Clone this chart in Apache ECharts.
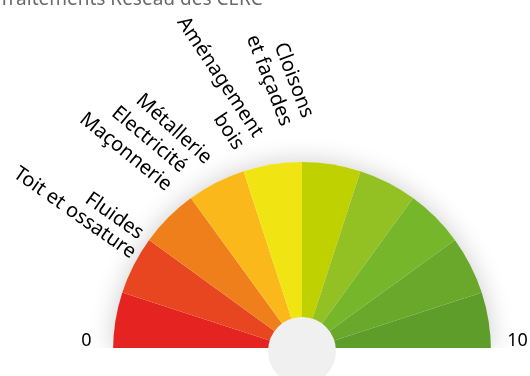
<!DOCTYPE html>
<html>
<head>
<meta charset="utf-8">
<script src="https://cdn.jsdelivr.net/npm/echarts@6/dist/echarts.min.js"></script>
<style>
html,body{margin:0;padding:0;background:#fff;}
#chart{width:530px;height:376px;}
</style>
</head>
<body>
<div id="chart"></div>
<script>
// ---- data ----
const titleText = 'Traitements Réseau des CERC';
const bandValues = [1, 1, 1, 1, 1, 1, 1, 1, 1, 1];
const categories = ['Toit et ossature', 'Fluides', 'Maçonnerie', 'Electricité', 'Métallerie', 'Aménagement\nbois', 'Cloisons\net façades'];
const scores = [1.66, 1.99, 2.83, 3.17, 3.55, 4.21, 4.93];
const tickLabels = [0, 10];

// ---- style / layout ----
const bandColors = ['#e52421', '#e84521', '#ef7f1a', '#fbb81b', '#f0e412', '#c0d102', '#93c022', '#76b62a', '#69a82b', '#5e9d2a'];
const labelRadius = [194, 198, 211, 217, 212, 216, 230];
const labelRotate = [-35, -35, -39, -40, -42, -56.5, -69];
const CX = 302, CY = 351, R = 189;
const FONT = 'Noto Sans';

const chart = echarts.init(document.getElementById('chart'), null, {renderer: 'canvas'});

const labelData = categories.map((c, i) => ({
  name: c,
  value: [labelRadius[i], scores[i]],
  label: {rotate: labelRotate[i]}
}));
const tickData = tickLabels.map(t => ({name: String(t), value: [215.5, t]}));

chart.setOption({
  animation: false,
  backgroundColor: '#fff',
  graphic: [
    {type: 'text', x: -1, y: 0, z: 10, style: {text: titleText, font: '19px "Noto Sans"', fill: '#6a6a6a', verticalAlign: 'middle'}},
    {type: 'rect', shape: {x: 0, y: CY - 3, width: 530, height: 40}, style: {fill: '#fff'}, z: 3}
  ],
  polar: {center: [CX, CY], radius: 300},
  angleAxis: {type: 'value', min: 0, max: 20, startAngle: 180, clockwise: true, show: false, axisLine: {show: false}, splitLine: {show: false}, axisLabel: {show: false}, axisTick: {show: false}},
  radiusAxis: {type: 'value', min: 0, max: 300, show: false, axisLine: {show: false}, splitLine: {show: false}, axisLabel: {show: false}, axisTick: {show: false}},
  series: [
    {
      type: 'pie', z: 1, silent: true, center: [CX, CY], radius: [0, R],
      startAngle: 180, endAngle: 0, clockwise: true, label: {show: false},
      data: [{value: 1, itemStyle: {color: '#ffffff', shadowBlur: 26, shadowColor: 'rgba(0,0,0,0.2)'}}]
    },
    {
      type: 'pie', z: 2, silent: true, center: [CX, CY], radius: [0, R],
      startAngle: 180, endAngle: 0, clockwise: true, label: {show: false}, labelLine: {show: false},
      itemStyle: {borderWidth: 0},
      data: bandValues.map((v, i) => ({value: v, itemStyle: {color: bandColors[i]}}))
    },
    {
      type: 'pie', z: 5, silent: true, center: [CX, CY], radius: [0, 34],
      startAngle: 90, label: {show: false}, labelLine: {show: false},
      data: [{value: 1, itemStyle: {color: '#f0f0f0'}}]
    },
    {
      type: 'scatter', coordinateSystem: 'polar', z: 6, silent: true, symbolSize: 0,
      itemStyle: {opacity: 1},
      data: labelData,
      label: {show: true, position: 'left', distance: 0, formatter: p => p.name, opacity: 1,
        fontFamily: FONT, fontSize: 20, lineHeight: 23, color: '#000'}
    },
    {
      type: 'scatter', coordinateSystem: 'polar', z: 6, silent: true, symbolSize: 0,
      itemStyle: {opacity: 1},
      data: tickData,
      label: {show: true, position: 'inside', offset: [0, -10], formatter: p => p.name, opacity: 1,
        fontFamily: FONT, fontSize: 18, color: '#000'}
    }
  ]
});
</script>
</body>
</html>
